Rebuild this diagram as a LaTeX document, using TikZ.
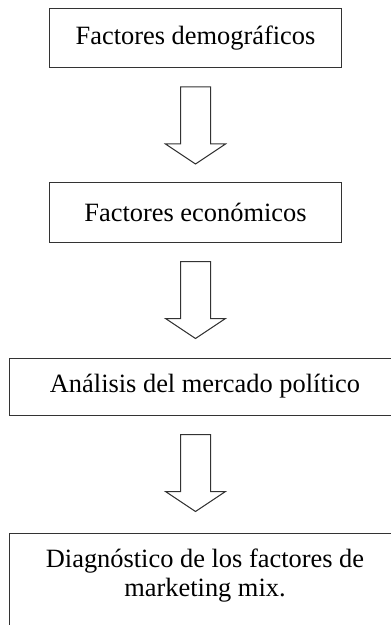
\documentclass[tikz,border=0pt]{standalone}
\usepackage{fontspec}
\setmainfont{Liberation Serif}
\usetikzlibrary{calc}

\tikzset{
  factorbox/.style={draw=black!80, line width=1bp, minimum width=291bp, minimum height=59bp, inner sep=0pt,
    font=\fontsize{26.5}{30}\selectfont},
  widebox/.style={factorbox, minimum width=390bp, minimum height=57bp},
  hollowarrow/.style={draw=black!80, line width=1bp, line join=miter}
}

\begin{document}
\begin{tikzpicture}[x=1bp, y=-1bp]
    \useasboundingbox (0,0) rectangle (390,625);
    \node[factorbox] (demo) at (195.5,38) {Factores demográficos};
    \node[factorbox] (econ) at (195.5,212.5) {Factores económicos};
    \node[widebox] (polit) at (205,386.5) {Análisis del mercado político};
    \node[widebox, anchor=north, inner ysep=15bp] (diag) at (205,533)
        {\parbox[t][130bp][t]{370bp}{\centering Diagnóstico de los factores de\\marketing mix.}};
    % hollow arrows between the boxes
    \foreach \a in {demo, econ, polit}
        \draw[hollowarrow] ($(\a.south -| demo.south)+(-15,19)$) -- ++(0,57) -- ++(-15,0) -- ++(30,20)
            -- ++(30,-20) -- ++(-15,0) -- ++(0,-57) -- cycle;
\end{tikzpicture}
\end{document}
